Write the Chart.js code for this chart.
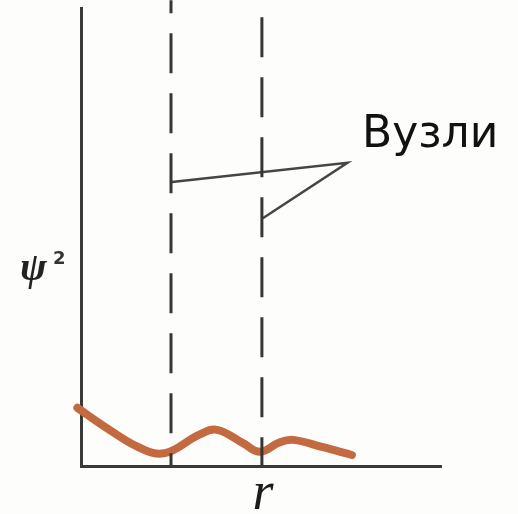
<!DOCTYPE html>
<html>
<head>
<meta charset="utf-8">
<title>ψ² (r)</title>
<script src="https://cdn.jsdelivr.net/npm/chart.js@4/dist/chart.umd.min.js"></script>
<style>
  html, body { margin: 0; padding: 0; background: #fdfdfb; }
  canvas { display: block; }
</style>
</head>
<body>
<canvas id="c" width="518" height="514"></canvas>
<script>
// Radial position r (arbitrary units) and probability density ψ² along it
const rValues    = [-0.04, 0.27, 0.64, 0.93, 1.31, 1.51, 1.80, 1.99, 2.21, 2.36, 2.69, 3.01];
const psi2Values = [1.27, 0.85, 0.41, 0.28, 0.68, 0.79, 0.50, 0.31, 0.52, 0.57, 0.41, 0.24];

// Positions of the nodes (zeros of ψ) on the r axis
const nodeR = [1.0, 2.01];
const nodeLineTop = 10.17;

// Leader lines from the nodes to the label: node 1 → label point → node 2
const leaderR    = [1.01, 2.96, 2.02];
const leaderPsi2 = [6.20, 6.62, 5.41];

// Text labels
const yAxisLabel = 'ψ';
const yAxisSup = '2';
const xAxisLabel = 'r';
const nodeLabel = 'Вузли';

const curvePoints = rValues.map((r, i) => ({ x: r, y: psi2Values[i] }));
const leaderPoints = leaderR.map((r, i) => ({ x: r, y: leaderPsi2[i] }));
const dashOffsets = [27, 43];

const nodeDatasets = nodeR.map((r, i) => ({
  data: [{ x: r, y: nodeLineTop }, { x: r, y: 0 }],
  showLine: true,
  borderColor: '#363636',
  borderWidth: 3,
  borderDash: [40, 20],
  borderDashOffset: dashOffsets[i],
  pointRadius: 0,
  clip: false
}));

const labelsPlugin = {
  id: 'labels',
  afterDatasetsDraw(chart) {
    const ctx = chart.ctx;
    ctx.save();
    ctx.fillStyle = '#222';
    ctx.textBaseline = 'alphabetic';
    ctx.textAlign = 'left';
    // ψ²
    ctx.font = 'italic bold 40px "Liberation Serif", "DejaVu Serif", serif';
    ctx.fillText(yAxisLabel, 20, 280);
    ctx.font = 'bold 18px "DejaVu Sans", sans-serif';
    ctx.fillStyle = '#333';
    ctx.fillText(yAxisSup, 53, 264);
    // r
    ctx.fillStyle = '#1c1c1c';
    ctx.font = 'italic 54px "Liberation Serif", "DejaVu Serif", serif';
    ctx.textAlign = 'center';
    ctx.fillText(xAxisLabel, 263, 509);
    // Вузли
    ctx.fillStyle = '#111';
    ctx.textAlign = 'left';
    ctx.font = '44px "DejaVu Sans", sans-serif';
    ctx.fillText(nodeLabel, 362, 147);
    ctx.restore();
  }
};

const curveStyle = {
  showLine: true,
  pointRadius: 0,
  tension: 0.4,
  borderCapStyle: 'round',
  borderJoinStyle: 'round',
  clip: false
};

new Chart(document.getElementById('c'), {
  type: 'scatter',
  data: {
    datasets: [
      ...nodeDatasets,
      {
        data: leaderPoints,
        showLine: true,
        borderColor: '#454545',
        borderWidth: 2.5,
        pointRadius: 0,
        tension: 0
      },
      Object.assign({ data: curvePoints, borderColor: '#c46a40', borderWidth: 8 }, curveStyle),
      Object.assign({ data: curvePoints, borderColor: '#a3412a', borderWidth: 4 }, curveStyle)
    ]
  },
  options: {
    responsive: false,
    animation: false,
    layout: { padding: { left: 81, right: 77, top: 8, bottom: 48 } },
    plugins: { legend: { display: false }, tooltip: { enabled: false } },
    scales: {
      x: {
        type: 'linear', min: 0, max: 4,
        grid: { display: false },
        ticks: { display: false },
        border: { display: true, color: '#3a3a3a', width: 3 },
        afterFit(s) { s.height = 0; }
      },
      y: {
        type: 'linear', min: 0, max: 10,
        grid: { display: false },
        ticks: { display: false },
        border: { display: true, color: '#3a3a3a', width: 3 },
        afterFit(s) { s.width = 0; }
      }
    }
  },
  plugins: [labelsPlugin]
});
</script>
</body>
</html>
